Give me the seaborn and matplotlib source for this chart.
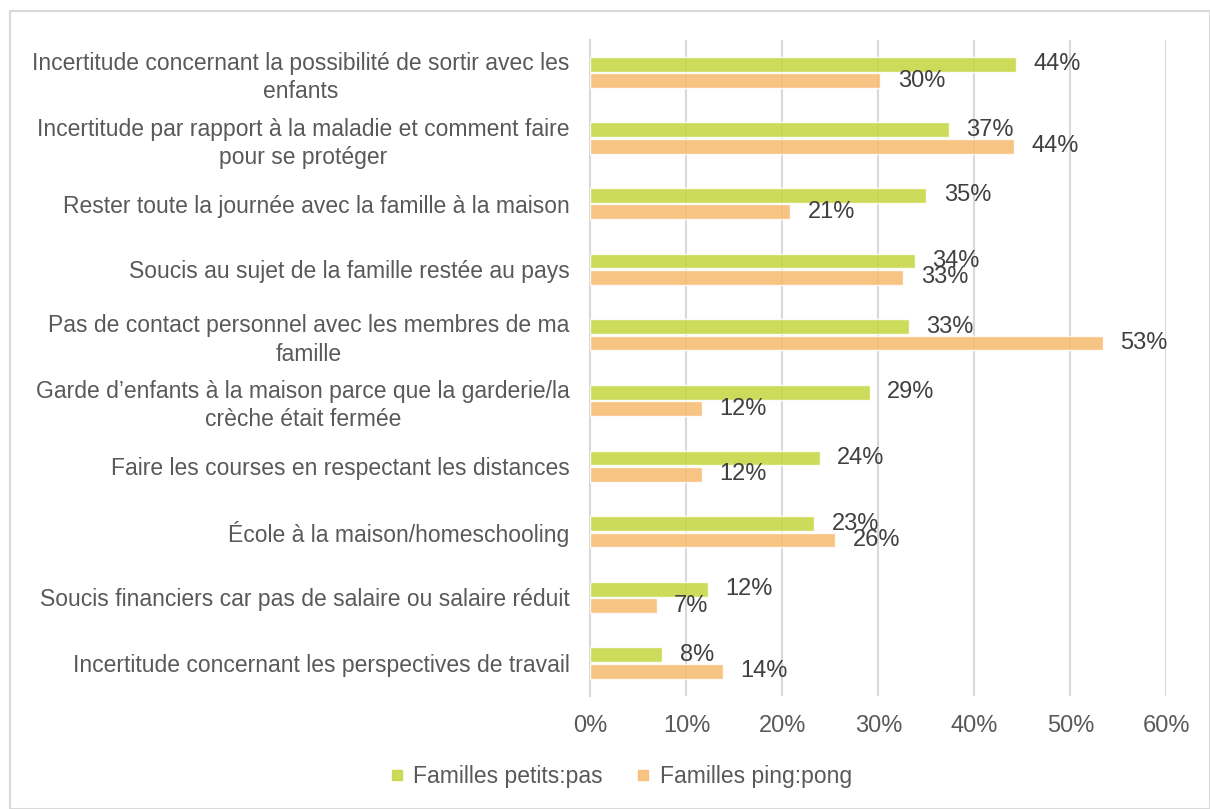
import numpy as np
import pandas as pd
import seaborn as sns
import matplotlib.pyplot as plt
from matplotlib.lines import Line2D
from matplotlib.patches import Rectangle
from matplotlib.ticker import FuncFormatter

categories = [
    "Incertitude concernant la possibilité de sortir avec les\nenfants",
    "Incertitude par rapport à la maladie et comment faire\npour se protéger",
    "Rester toute la journée avec la famille à la maison",
    "Soucis au sujet de la famille restée au pays",
    "Pas de contact personnel avec les membres de ma\nfamille",
    "Garde d\u2019enfants à la maison parce que la garderie/la\ncrèche était fermée",
    "Faire les courses en respectant les distances",
    "École à la maison/homeschooling",
    "Soucis financiers car pas de salaire ou salaire réduit",
    "Incertitude concernant les perspectives de travail",
]
series_names = ["Familles petits:pas", "Familles ping:pong"]
petits_pas = [44.3, 37.3, 35.0, 33.8, 33.2, 29.1, 23.9, 23.3, 12.2, 7.5]
ping_pong = [30.2, 44.1, 20.8, 32.6, 53.4, 11.6, 11.6, 25.5, 6.9, 13.8]
colors = ["#c4d53d", "#f7ba6d"]

sns.set_theme(style="white")
plt.rcParams['font.family'] = ['Liberation Sans', 'DejaVu Sans']

df = pd.DataFrame({
    "cat": categories * 2,
    "serie": [series_names[0]] * len(categories) + [series_names[1]] * len(categories),
    "val": petits_pas + ping_pong,
})

fig = plt.figure(figsize=(12.1, 8.09), dpi=100)
ax = fig.add_axes([0.488, 0.140, 0.476, 0.811])

sns.barplot(data=df, y="cat", x="val", hue="serie", order=categories,
            hue_order=series_names, palette=colors, saturation=1, orient="h",
            width=0.5, gap=0.1, alpha=0.85, ax=ax, legend=False, zorder=3)

ax.set_xlim(0, 60)
ax.set_xticks(np.arange(0, 61, 10))
ax.xaxis.set_major_formatter(FuncFormatter(lambda v, p: f"{v:.0f}%"))
ax.grid(axis="x", color="#d9d9d9", linewidth=1.5, zorder=0)
ax.set_axisbelow(True)
ax.set_xlabel("")
ax.set_ylabel("")
for s in ["top", "right", "bottom"]:
    ax.spines[s].set_visible(False)
ax.spines["left"].set_color("#d9d9d9")
ax.spines["left"].set_linewidth(1.5)
ax.tick_params(axis="y", length=0, pad=15, labelsize=16.5, labelcolor="#595959")
ax.tick_params(axis="x", length=0, pad=14, labelsize=17, labelcolor="#595959")
for t in ax.get_yticklabels():
    t.set_multialignment("center")
    t.set_linespacing(1.3)

for cont in ax.containers:
    for bar in cont:
        w = bar.get_width()
        ax.text(w + 1.8, bar.get_y() + bar.get_height() / 2, f"{w:.0f}%",
                va="center", ha="left", fontsize=17, color="#404040", zorder=4)

handles = [Line2D([], [], marker="s", linestyle="", markersize=7,
                  markerfacecolor=c, markeredgecolor=c, alpha=0.85) for c in colors]
fig.legend(handles, series_names, loc="center", bbox_to_anchor=(0.512, 0.04),
           ncol=2, frameon=False, fontsize=16.5, labelcolor="#595959",
           handletextpad=0.3, columnspacing=1.4, handlelength=0.8)

fig.patches.append(Rectangle((0.008, 0.0), 0.992, 0.987, transform=fig.transFigure,
                             fill=False, edgecolor="#d9d9d9", linewidth=1.5))

fig.savefig("out.png", dpi=100)
